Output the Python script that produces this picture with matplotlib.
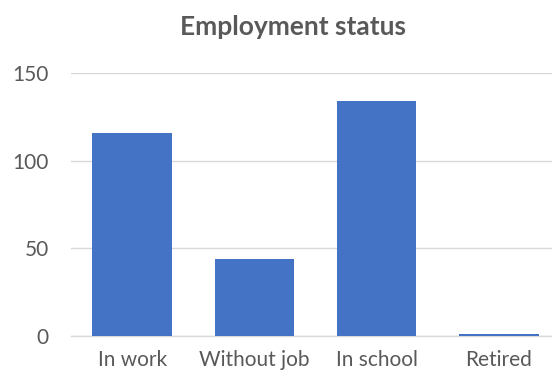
import matplotlib
matplotlib.use("Agg")
import matplotlib.pyplot as plt

# employment survey counts
categories = ["In work", "Without job", "In school", "Retired"]
counts = [116, 44, 134, 1]
yticks = [0, 50, 100, 150]

BAR_COLOR = "#4472C4"
TEXT_COLOR = "#595959"
GRID_COLOR = "#D9D9D9"

plt.rcParams["font.family"] = ["Lato", "DejaVu Sans"]

fig = plt.figure(figsize=(5.52, 3.77), dpi=100)
ax = fig.add_axes([0.1286, 0.1088, 0.886, 0.6968])

x = range(len(categories))
ax.bar(x, counts, width=0.65, color=BAR_COLOR, zorder=3)

ax.set_xlim(-0.5, len(categories) - 0.5)
ax.set_ylim(0, 150)
ax.set_yticks(yticks)
ax.set_xticks(list(x))
ax.set_xticklabels(categories)

ax.yaxis.grid(True, color=GRID_COLOR, linewidth=1.0, zorder=0)
ax.xaxis.grid(False)
for side in ["top", "right", "left"]:
    ax.spines[side].set_visible(False)
ax.spines["bottom"].set_color(GRID_COLOR)
ax.spines["bottom"].set_linewidth(1.0)
ax.tick_params(axis="both", length=0, colors=TEXT_COLOR, labelsize=15)
ax.tick_params(axis="y", pad=16)
ax.tick_params(axis="x", pad=10)

fig.text(0.53, 0.928, "Employment status", ha="center", va="center",
         fontsize=19, fontweight="bold", color=TEXT_COLOR)

fig.savefig("out.png", dpi=100)
